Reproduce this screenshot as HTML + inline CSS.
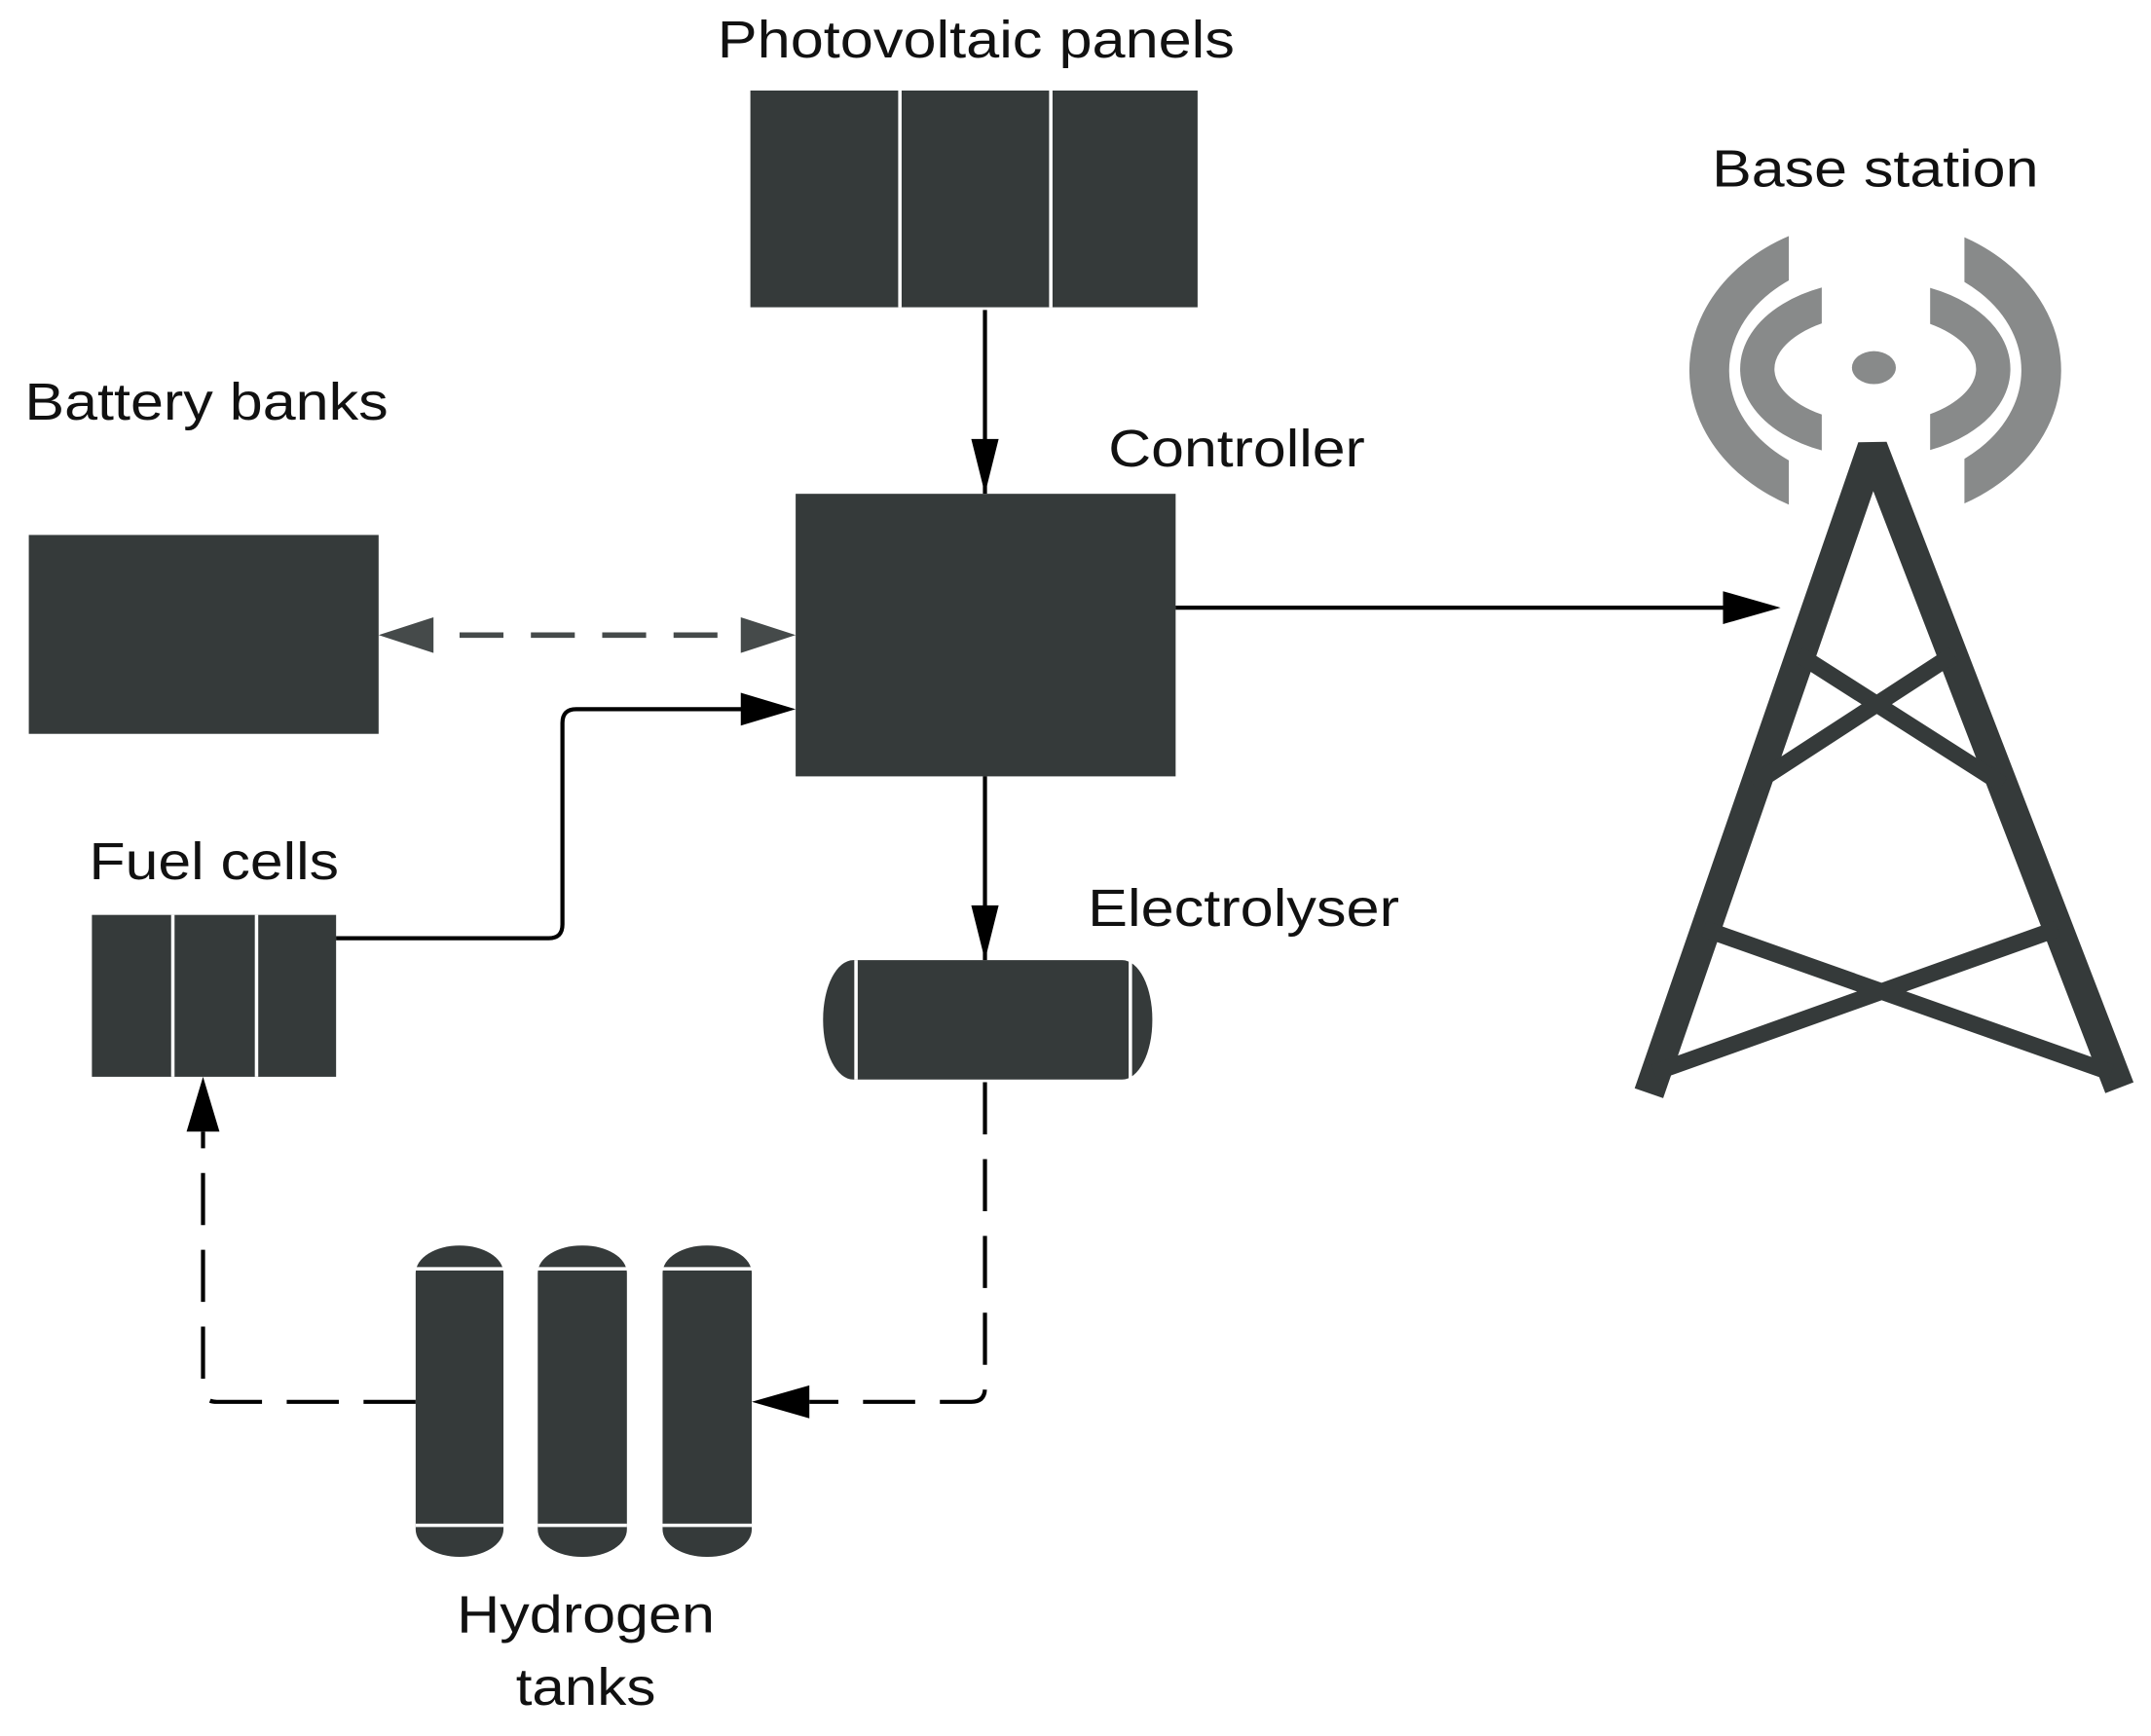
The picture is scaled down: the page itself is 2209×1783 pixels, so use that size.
<!DOCTYPE html>
<html><head><meta charset="utf-8"><style>html,body{margin:0;padding:0;background:#fff}svg{display:block}</style></head>
<body>
<svg width="2209" height="1783" viewBox="0 0 1568 1265.6" xmlns="http://www.w3.org/2000/svg" font-family="Liberation Sans, sans-serif" font-size="38" fill="#111">
<defs>
<clipPath id="cl"><rect x="1200" y="150" width="104" height="240"/><rect x="1432" y="150" width="100" height="240"/></clipPath>
<clipPath id="ci"><rect x="1240" y="150" width="88" height="240"/><rect x="1407" y="150" width="80" height="240"/></clipPath>
</defs>
<text x="523" y="42" textLength="377" lengthAdjust="spacingAndGlyphs">Photovoltaic panels</text>
<text x="18" y="306" textLength="265" lengthAdjust="spacingAndGlyphs">Battery banks</text>
<text x="808" y="340" textLength="187" lengthAdjust="spacingAndGlyphs">Controller</text>
<text x="65" y="641" textLength="182" lengthAdjust="spacingAndGlyphs">Fuel cells</text>
<text x="793" y="675" textLength="227" lengthAdjust="spacingAndGlyphs">Electrolyser</text>
<text x="1248" y="136" textLength="238" lengthAdjust="spacingAndGlyphs">Base station</text>
<text x="333" y="1190" textLength="188" lengthAdjust="spacingAndGlyphs">Hydrogen</text>
<text x="376" y="1243" textLength="102" lengthAdjust="spacingAndGlyphs">tanks</text>
<g fill="#353a3a">
<rect x="547" y="66" width="326" height="158"/>
<rect x="21" y="390" width="255" height="145"/>
<rect x="580" y="360" width="277" height="206"/>
<rect x="67" y="667" width="178" height="118"/>
<rect x="600" y="700" width="240" height="87" rx="22" ry="43"/>
<rect x="303" y="908" width="64" height="227" rx="32" ry="20"/>
<rect x="392" y="908" width="65" height="227" rx="32" ry="20"/>
<rect x="483" y="908" width="65" height="227" rx="32" ry="20"/>
</g>
<g stroke="#fff" stroke-width="2.5">
<line x1="656" y1="66" x2="656" y2="224"/><line x1="766" y1="66" x2="766" y2="224"/>
<line x1="126" y1="667" x2="126" y2="785"/><line x1="187" y1="667" x2="187" y2="785"/>
<line x1="624" y1="700" x2="624" y2="787"/><line x1="824" y1="700" x2="824" y2="787"/>
<line x1="303" y1="925" x2="367" y2="925"/><line x1="303" y1="1112" x2="367" y2="1112"/>
<line x1="392" y1="925" x2="457" y2="925"/><line x1="392" y1="1112" x2="457" y2="1112"/>
<line x1="483" y1="925" x2="548" y2="925"/><line x1="483" y1="1112" x2="548" y2="1112"/>
</g>
<g stroke="#000" stroke-width="3" fill="none">
<line x1="718" y1="226" x2="718" y2="360"/>
<path d="M718,320 l-10,0 l10,40 l10,-40 z" fill="#000" stroke="none"/>
<line x1="718" y1="566" x2="718" y2="700"/>
<path d="M718,660 l-10,0 l10,40 l10,-40 z" fill="#000" stroke="none"/>
<path d="M245,684 H400 Q410,684 410,674 V527 Q410,517 420,517 H545"/>
<path d="M540,505 L580,517 L540,529 z" fill="#000" stroke="none"/>
<line x1="857" y1="443" x2="1260" y2="443"/>
<path d="M1256,431 L1298,443 L1256,455 z" fill="#000" stroke="none"/>
<path d="M718,789 V1012 Q718,1022 708,1022 H590" stroke-dasharray="38,18"/>
<path d="M590,1010 L548,1022 L590,1034 z" fill="#000" stroke="none"/>
<path d="M303,1022 H158 Q148,1022 148,1012 V825" stroke-dasharray="38,18"/>
<path d="M136,825 L148,785 L160,825 z" fill="#000" stroke="none"/>
</g>
<line x1="315" y1="463" x2="540" y2="463" stroke="#454a4a" stroke-width="4" stroke-dasharray="0,20,32,20,32,20,32,20,32,20"/>
<path d="M276,463 L316,450 L316,476 z" fill="#454a4a"/>
<path d="M580,463 L540,450 L540,476 z" fill="#454a4a"/>
<g stroke="#888a8a" fill="none">
<ellipse cx="1367" cy="270" rx="121" ry="96" stroke-width="29" clip-path="url(#cl)"/>
<ellipse cx="1367" cy="269" rx="86" ry="52" stroke-width="25" clip-path="url(#ci)"/>
</g>
<ellipse cx="1366" cy="268" rx="16" ry="12" fill="#888a8a"/>
<g stroke="#353a3a" fill="none">
<path d="M1202,797 L1365,326 L1545,793" stroke-width="22" stroke-linejoin="bevel"/>
<path d="M1311,477 L1460,572 M1424,477 L1278,572 M1242,677 L1539,782 M1500,677 L1206,782" stroke-width="12"/>
</g>
</svg>
</body></html>
